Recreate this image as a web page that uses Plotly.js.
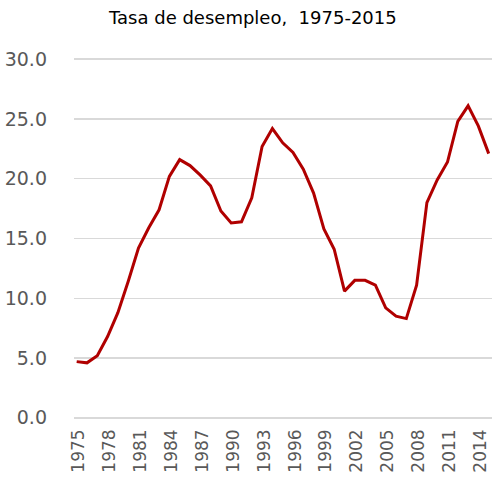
<!DOCTYPE html>
<html>
<head>
<meta charset="utf-8">
<script src="https://cdn.plot.ly/plotly-3.0.1.min.js"></script>
<style>html,body{margin:0;padding:0;background:#fff;}#chart{width:492px;height:477px;}</style>
</head>
<body>
<div id="chart"></div>
<script>
const years = [1975,1976,1977,1978,1979,1980,1981,1982,1983,1984,1985,1986,1987,1988,1989,1990,1991,1992,1993,1994,1995,1996,1997,1998,1999,2000,2001,2002,2003,2004,2005,2006,2007,2008,2009,2010,2011,2012,2013,2014,2015];
const unemployment = [4.7,4.6,5.2,6.8,8.8,11.4,14.2,15.9,17.4,20.2,21.6,21.1,20.3,19.4,17.3,16.3,16.4,18.4,22.7,24.2,23.0,22.2,20.8,18.8,15.8,14.1,10.6,11.5,11.5,11.1,9.2,8.5,8.3,11.1,18.0,19.9,21.4,24.8,26.1,24.4,22.1];
const xTicks = [1975,1978,1981,1984,1987,1990,1993,1996,1999,2002,2005,2008,2011,2014];
const yTicks = [0,5,10,15,20,25,30];
const titleText = 'Tasa de desempleo,  1975-2015';

Plotly.newPlot('chart', [{
  x: years, y: unemployment, type: 'scatter', mode: 'lines',
  line: {color: '#B00000', width: 3}, hoverinfo: 'skip'
}], {
  width: 492, height: 477,
  margin: {l: 74, r: 0, t: 58, b: 58},
  paper_bgcolor: '#fff', plot_bgcolor: '#fff',
  showlegend: false,
  title: {text: titleText, x: 0.514, xanchor: 'center', y: 0.962, yanchor: 'middle',
          font: {family: 'DejaVu Sans', size: 18, color: '#000'}},
  xaxis: {
    range: [1974.74, 2015.32], tickmode: 'array', tickvals: xTicks, ticktext: xTicks.map(String),
    tickangle: -90, showgrid: false, zeroline: false, showline: false, ticks: '',
    ticklabelstandoff: 6, ticklabelshift: 2, ticklabeloverflow: 'allow',
    tickfont: {family: 'DejaVu Sans', size: 17, color: '#595959'}
  },
  yaxis: {
    range: [-0.1, 30.1], tickmode: 'array', tickvals: yTicks, ticktext: yTicks.map(v => v.toFixed(1)),
    showgrid: true, gridcolor: '#d9d9d9', gridwidth: 1.5, zeroline: false, showline: false, ticks: '',
    ticklabelstandoff: 26,
    tickfont: {family: 'DejaVu Sans', size: 19, color: '#595959'}
  }
}, {staticPlot: true});
</script>
</body>
</html>
